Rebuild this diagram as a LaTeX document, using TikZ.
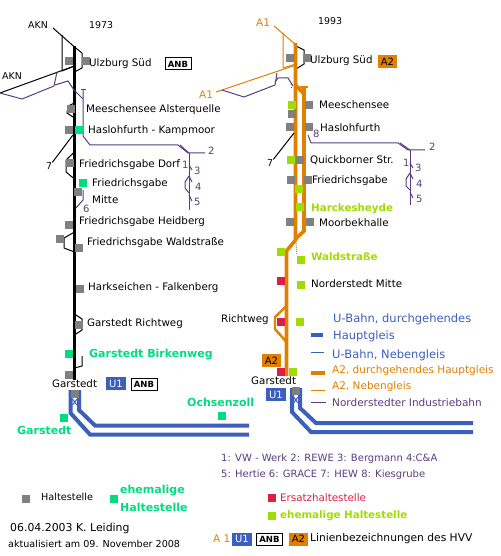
\documentclass[tikz,border=0pt]{standalone}
\usepackage{fontspec}
\setmainfont{DejaVu Sans}
\usetikzlibrary{positioning}
\definecolor{haltgrey}{HTML}{808080}
\definecolor{oldteal}{HTML}{00DC82}
\definecolor{oldlime}{HTML}{A0DC00}
\definecolor{ersatz}{HTML}{DC1E46}
\definecolor{ubahn}{HTML}{3C5FBE}
\definecolor{akn}{HTML}{E08000}
\definecolor{indus}{HTML}{5A3C82}
\tikzset{
  x=1pt, y=-1pt,
  % ---- stations ---------------------------------------------------
  halt/.style    = {rectangle, fill=haltgrey, inner sep=0pt, minimum size=8pt},
  oldhalt/.style = {halt, fill=oldteal},
  limehalt/.style= {halt, fill=oldlime},
  redhalt/.style = {halt, fill=ersatz},
  % ---- labels -----------------------------------------------------
  lab/.style     = {anchor=west, inner sep=0pt, font=\fontsize{10.3}{12}\selectfont, text=black},
  tinylab/.style = {lab, font=\fontsize{9.4}{11}\selectfont},
  tlab/.style    = {lab, text=oldteal, font=\fontsize{11}{12}\bfseries},
  llab/.style    = {lab, text=oldlime, font=\fontsize{10.3}{12}\bfseries},
  nlab/.style    = {lab, text=indus, font=\fontsize{10}{12}\selectfont},
  olab/.style    = {lab, text=akn, font=\fontsize{10.5}{12}\selectfont},
  blab/.style    = {lab, text=ubahn, font=\fontsize{11.5}{12}\selectfont},
  % ---- line badges ------------------------------------------------
  uone/.style    = {fill=ubahn, text=white, inner sep=0pt, minimum width=20pt, minimum height=13pt, font=\fontsize{10}{12}\selectfont},
  atwo/.style    = {fill=akn, text=black, inner sep=0pt, minimum width=19pt, minimum height=13pt, font=\fontsize{10}{12}\selectfont},
  anb/.style     = {draw=black, line width=1pt, fill=white, inner sep=0pt, minimum width=26pt, minimum height=12pt, font=\fontsize{8.5}{10}\bfseries},
  % ---- tracks -----------------------------------------------------
  blackmain/.style = {draw=black, line width=3pt},
  blackside/.style = {draw=black, line width=1pt},
  orgmain/.style   = {draw=akn, line width=3.6pt},
  orgside/.style   = {draw=akn, line width=1pt},
  blumain/.style   = {draw=ubahn, line width=4pt},
  bluside/.style   = {draw=ubahn, line width=1pt},
  indline/.style   = {draw=indus, line width=1pt},
}
\begin{document}
\begin{tikzpicture}
  \useasboundingbox (0,0) rectangle (500,556);
  % ---- 1973 tracks
  \draw[blackside] (53,28) -- (74.5,47);
  \draw[blackside] (62,35) -- (62,71) -- (74.5,66);
  \draw[blackside] (0,93) -- (74.5,66);
  \draw[blackside] (74.5,47) -- (82,53) -- (82,68) -- (74.5,72);
  \draw[blackside] (74.5,103) -- (68,106) -- (67,113) -- (74.5,118);
  \draw[blackside] (74.5,152) -- (66,160) -- (66,172) -- (74.5,179);
  \draw[blackside] (74.5,232) -- (64,238) -- (64,248) -- (74.5,252);
  \draw[blackside] (74.5,314) -- (82,319) -- (82,330) -- (74.5,335);
  \draw[blackside] (82,356) -- (82,366) -- (74.5,368);
  \draw[blackmain] (74.5,46) -- (74.5,380);
  % ---- 1973 industry lines
  \draw[indline] (0,93) -- (22,99) -- (54,86) -- (57,72);
  \draw[indline] (55,85) -- (68,81) -- (74,90) -- (83,99);
  \draw[indline] (81,89.5) -- (86,89.5);
  \draw[indline] (83,89.5) -- (83,136) -- (90,145) -- (178,145) -- (188,153) -- (205,153);
  \draw[indline] (180,145) -- (189,153);
  \draw[indline] (189,153) -- (189,210);
  \draw[indline] (189,165) -- (192,170);
  \draw[indline] (189,176) -- (185,182) -- (185,188) -- (189,193);
  \draw[indline] (189,176) -- (192,182);
  \draw[indline] (189,195) -- (192,201);
  \draw[indline] (83,190) -- (83,200) -- (76,208);
  % ---- 1973 stations
  \node[halt] (ulz) at (69,61) {};
  \node[halt] (ulzb) at (86,61) {};
  \node[halt] (mee) at (71,109) {};
  \node[halt] (has) at (69,130) {};
  \node[oldhalt] (hasb) at (79,130) {};
  \node[halt] (fdo) at (70,163) {};
  \node[oldhalt] (fga) at (83,183) {};
  \node[halt] (fmi) at (78,192) {};
  \node[halt] (fhe) at (69,225) {};
  \node[halt] (fwa) at (60,239) {};
  \node[halt] (fwb) at (79,248) {};
  \node[halt] (har) at (80,289) {};
  \node[halt] (ric) at (79,325) {};
  \node[oldhalt] (bir) at (69,354) {};
  \node[halt] (gar) at (69,375) {};
  \node[tinylab] (laknA) at (28,25) {AKN};
  \node[tinylab] (laknB) at (2,76) {AKN};
  \node[tinylab] (lyear) at (89,25) {1973};
  \node[lab] (lulz) at (89,64) {Ulzburg Süd};
  \node[anb] (banb) at (178,64) {ANB};
  \node[lab] (lmee) at (86,110) {Meeschensee Alsterquelle};
  \node[lab] (lhas) at (88,131) {Haslohfurth - Kampmoor};
  \node[lab] (lfdo) at (79,165) {Friedrichsgabe Dorf};
  \node[lab] (lfga) at (92,184) {Friedrichsgabe};
  \node[lab] (lfmi) at (92,200) {Mitte};
  \node[lab] (lfhe) at (79,222) {Friedrichsgabe Heidberg};
  \node[lab] (lfwa) at (87,243) {Friedrichsgabe Waldstraße};
  \node[lab] (lhar) at (88,288) {Harkseichen - Falkenberg};
  \node[lab] (lric) at (87,324) {Garstedt Richtweg};
  \node[tlab] (lbir) at (89,355) {Garstedt Birkenweg};
  \node[lab] (lgar) at (52,384) {Garstedt};
  \node[uone] (bua) at (116,383.5) {U1};
  \node[anb] (bab) at (144,384) {ANB};
  \node[tinylab] (lsev) at (46,166) {7};
  \draw[blackside] (73,135) -- (lsev.north east);
  \node[nlab] (ln1) at (182,165) {1};
  \node[nlab] (ln2) at (208,151) {2};
  \node[nlab] (ln3) at (194,171) {3};
  \node[nlab] (ln4) at (195,187) {4};
  \node[nlab] (ln5) at (194,202) {5};
  \node[nlab] (ln6) at (83,209) {6};
  % ---- U-Bahn, left
  \draw[blumain] (70.5,390) -- (70.5,413) -- (90,434.5) -- (249,434.5);
  \draw[blumain] (79,390) -- (79,410) -- (95,425.5) -- (249,425.5);
  \draw[bluside] (72.5,399) -- (77,405) (77,399) -- (72.5,405);
  \node[halt] (gau) at (75,393.5) {};
  \node[oldhalt] (gao) at (64,418) {};
  \node[tlab] (lgao) at (17,430) {Garstedt};
  \node[oldhalt] (och) at (222,416) {};
  \node[tlab] (loch) at (187,402) {Ochsenzoll};
  % ---- legend, left
  \node[halt] (kga) at (26,499) {};
  \node[lab, font=\fontsize{9.7}{11}\selectfont] (kgl) at (41,497) {Haltestelle};
  \node[oldhalt] (kte) at (114,499) {};
  \node[tlab] (ktl) at (120,491) {ehemalige};
  \node[tlab] (ktm) at (120,507) {Haltestelle};
  \node[lab, font=\fontsize{10.9}{11}\selectfont] (ldat) at (10,528) {06.04.2003 K. Leiding};
  \node[lab, font=\fontsize{9.6}{11}\selectfont] (lakt) at (8,544) {aktualisiert am 09. November 2008};
  % ---- 1993 tracks
  \draw[orgside] (274,26) -- (296,45);
  \draw[orgside] (283,33) -- (283,68) -- (296,64);
  \draw[orgside] (216,92) -- (296,65);
  \draw[blackside] (296,46) -- (304,50) -- (304,64) -- (296,69);
  \draw[orgmain] (295.5,43) -- (295.5,240) -- (286.5,251) -- (286.5,376);
  \draw[orgmain] (304,87) -- (304,231) -- (295.5,239);
  \draw[orgmain] (295.5,85) -- (304,94);
  \draw[orgmain, line width=2pt] (300,87) -- (308,87);
  \draw[orgmain, line width=2.4pt] (286.5,306) -- (275,317) -- (275,329) -- (286.5,342);
  \draw[orgside, densely dotted] (296,243) -- (297,255);
  % ---- 1993 industry lines
  \draw[indline] (222,90) -- (244,97) -- (275,85) -- (277,73);
  \draw[indline] (275,82) -- (278,78) -- (288,78) -- (293,86);
  \draw[indline, dotted] (291,84) -- (292,90);
  \draw[indline] (308,135) -- (311,143) -- (398,143) -- (408,150) -- (425,150);
  \draw[indline] (400,143) -- (410,150);
  \draw[indline] (410,150) -- (410,205);
  \draw[indline] (410,163) -- (413,168);
  \draw[indline] (410,173) -- (406,179) -- (406,186) -- (410,190);
  \draw[indline] (410,173) -- (413,179);
  \draw[indline] (410,192) -- (413,198);
  % ---- 1993 stations
  \node[halt] (nulz) at (290,58) {};
  \node[halt] (nulb) at (307,58) {};
  \node[limehalt] (nmel) at (292,105) {};
  \node[halt] (nmeg) at (292,114) {};
  \node[halt] (nmee) at (309,105) {};
  \node[halt] (nhaa) at (290,127) {};
  \node[halt] (nhab) at (309,127) {};
  \node[limehalt] (nqul) at (291,160) {};
  \node[halt] (nqug) at (300,160) {};
  \node[halt] (nfra) at (291,180) {};
  \node[halt] (nfrb) at (308,180) {};
  \node[limehalt] (nfrl) at (299,189) {};
  \node[limehalt] (nhck) at (300,207) {};
  \node[halt] (nmoa) at (290,222) {};
  \node[halt] (nmob) at (310,222) {};
  \node[limehalt] (nwaa) at (281,252) {};
  \node[limehalt] (nwab) at (301,260) {};
  \node[redhalt] (nnoa) at (281,281) {};
  \node[limehalt] (nnob) at (301,285) {};
  \node[redhalt] (nria) at (281,322) {};
  \node[limehalt] (nrib) at (300,322) {};
  \node[redhalt] (ngaa) at (281,372) {};
  \node[limehalt] (ngab) at (293,372) {};
  \node[olab] (lnaa) at (256,23) {A1};
  \node[olab] (lnab) at (199,95) {A1};
  \node[tinylab] (lnyr) at (318,21) {1993};
  \node[lab] (lnul) at (310,61) {Ulzburg Süd};
  \node[atwo] (bnat) at (387.5,61.5) {A2};
  \node[lab] (lnme) at (319,105) {Meeschensee};
  \node[lab] (lnha) at (320,128) {Haslohfurth};
  \node[lab] (lnqu) at (310,160) {Quickborner Str.};
  \node[lab] (lnfr) at (312,181) {Friedrichsgabe};
  \node[llab] (lnhc) at (311,209) {Harckesheyde};
  \node[lab] (lnmo) at (319,223) {Moorbekhalle};
  \node[llab] (lnwa) at (311,257) {Waldstraße};
  \node[lab] (lnno) at (311,284) {Norderstedt Mitte};
  \node[lab] (lnri) at (221,320) {Richtweg};
  \node[atwo] (bnab) at (271.5,360.5) {A2};
  \node[lab] (lnga) at (251,381) {Garstedt};
  \node[uone] (bnua) at (276,394.5) {U1};
  \node[tinylab] (lnse) at (267,163) {7};
  \draw[blackside] (294,133) -- (lnse.north east);
  \node[nlab] (lnn1) at (403,163) {1};
  \node[nlab] (lnn2) at (429,147) {2};
  \node[nlab] (lnn3) at (415,168) {3};
  \node[nlab] (lnn4) at (416,184) {4};
  \node[nlab] (lnn5) at (416,199) {5};
  \node[nlab] (lnn8) at (313,134) {8};
  % ---- U-Bahn, right
  \draw[blumain] (292,388) -- (292,412) -- (311,432) -- (473,432);
  \draw[blumain] (300,388) -- (300,408) -- (316,423) -- (473,423);
  \draw[bluside] (293.5,397) -- (298,403) (298,397) -- (293.5,403);
  \node[halt] (ngu) at (296,391) {};
  % ---- legend, right
  \draw[blumain] (311,335) -- (323,335);
  \node[blab] (kub) at (333,319) {U-Bahn, durchgehendes};
  \node[blab] (kuc) at (333,336) {Hauptgleis};
  \draw[bluside] (311,352) -- (324,352);
  \node[blab] (kun) at (332,355) {U-Bahn, Nebengleis};
  \draw[orgmain] (311,373) -- (325,373);
  \node[olab] (kad) at (332,371) {A2, durchgehendes Hauptgleis};
  \draw[orgside] (311,390) -- (325,390);
  \node[olab] (kan) at (332,387) {A2, Nebengleis};
  \draw[indline] (311,402) -- (326,402);
  \node[nlab, font=\fontsize{10.5}{12}\selectfont] (kin) at (332,403) {Norderstedter Industriebahn};
  \node[nlab] (kna) at (221,459) {1: VW - Werk 2: REWE 3: Bergmann 4:C\&A};
  \node[nlab] (knb) at (221,475) {5: Hertie 6: GRACE 7: HEW 8: Kiesgrube};
  \node[redhalt] (ker) at (272,498) {};
  \node[lab, text=ersatz] (lker) at (280,498) {Ersatzhaltestelle};
  \node[limehalt] (keh) at (272,516) {};
  \node[llab] (lkeh) at (280,516) {ehemalige Haltestelle};
  \node[olab] (laa) at (213,539) {A 1};
  \node[uone] (kua) at (242,539) {U1};
  \node[anb] (kab) at (269.5,539) {ANB};
  \node[atwo] (kaa) at (298.5,539) {A2};
  \node[lab, font=\fontsize{10.7}{12}\selectfont] (lkli) at (310,539) {Linienbezeichnungen  des HVV};
\end{tikzpicture}
\end{document}
